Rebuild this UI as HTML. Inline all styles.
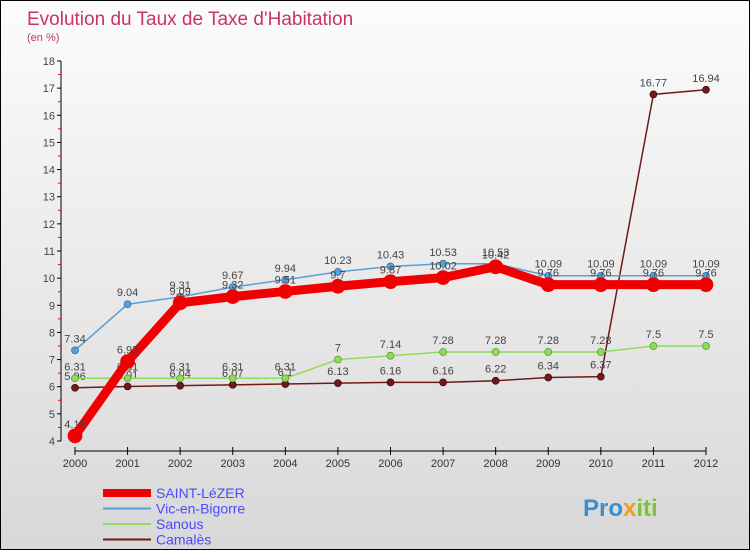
<!DOCTYPE html>
<html><head><meta charset="utf-8"><style>
body{margin:0}
#c{width:748px;height:548px;border:1px solid #000;background:linear-gradient(#fcfcfc,#d8d8d8);position:relative;font-family:"Liberation Sans",sans-serif;overflow:hidden}
</style></head><body>
<div id="c">
<svg id="s" width="748" height="548" style="position:absolute;left:0;top:0"></svg>
</div>
<script>
const years=[2000,2001,2002,2003,2004,2005,2006,2007,2008,2009,2010,2011,2012];
const saint=[4.19,6.93,9.09,9.32,9.51,9.7,9.87,10.02,10.42,9.76,9.76,9.76,9.76];
const vic=[7.34,9.04,9.31,9.67,9.94,10.23,10.43,10.53,10.53,10.09,10.09,10.09,10.09];
const sanous=[6.31,6.31,6.31,6.31,6.31,7,7.14,7.28,7.28,7.28,7.28,7.5,7.5];
const camales=[5.96,6.01,6.04,6.07,6.1,6.13,6.16,6.16,6.22,6.34,6.37,16.77,16.94];
const yTicks=[4,5,6,7,8,9,10,11,12,13,14,15,16,17,18];
const names=["SAINT-LéZER","Vic-en-Bigorre","Sanous","Camalès"];
const NS="http://www.w3.org/2000/svg";
const s=document.getElementById('s');
const X=i=>74+i*(705-74)/12;
const Y=v=>440-(v-4)*(380/14);
function el(t,a,p){const e=document.createElementNS(NS,t);for(const k in a)e.setAttribute(k,a[k]);(p||s).appendChild(e);return e;}
function txt(x,y,t,a){const e=el('text',Object.assign({x:x,y:y},a));e.textContent=t;return e;}
let tt=txt(26,24,"Evolution du Taux de Taxe d'Habitation",{fill:'#c8336a','font-size':19});


let st=txt(26,40,"(en %)",{fill:'#c8336a','font-size':11});


const ax=el('g',{});


el('line',{x1:60,y1:Y(18),x2:60,y2:Y(4),stroke:'#000'},ax);
yTicks.forEach(v=>{el('line',{x1:56,x2:60,y1:Y(v),y2:Y(v),stroke:'#000'},ax);
 if(v<18)el('line',{x1:57,x2:60,y1:Y(v+0.5),y2:Y(v+0.5),stroke:'#f00'},ax);
 txt(54,Y(v)+4,v,{'font-size':11,fill:'#444','text-anchor':'end'},ax);});
const xa=el('g',{});


el('line',{x1:X(0),x2:X(12),y1:450,y2:450,stroke:'#000'},xa);
years.forEach((y,i)=>{el('line',{x1:X(i),x2:X(i),y1:446,y2:454,stroke:'#000'},xa);
 txt(X(i),466,y,{'font-size':11,fill:'#333','text-anchor':'middle'},xa);});
function series(d,col,w,r,name,dark){const g=el('g',{});
 
 
 el('polyline',{points:d.map((v,i)=>X(i)+','+Y(v)).join(' '),fill:'none',stroke:col,'stroke-width':w,'stroke-linejoin':'round'},g);
 d.forEach((v,i)=>{el('circle',{cx:X(i),cy:Y(v),r:r,fill:col,stroke:dark,'stroke-width':0.7},g);
  txt(X(i),Y(v)-8,v,{'font-size':11,fill:'#444','text-anchor':'middle'},g);});}
series(camales,'#6e1a1a',1.5,3.5,'series-camales','#3a0808');
series(sanous,'#8fdc5a',1.5,3.5,'series-sanous','#4a9a20');
series(vic,'#5b9fd4',1.5,3.5,'series-vic-en-bigorre','#2a6aa0');
series(saint,'#f00000',9,7,'series-saint-lezer','#f00000');
const cols=['#f00000','#5b9fd4','#8fdc5a','#6e1a1a'],ws=[8,2,2,2];
names.forEach((n,i)=>{const g=el('g',{});
 
 
 const y=492+i*15.5;
 el('line',{x1:102,x2:150,y1:y,y2:y,stroke:cols[i],'stroke-width':ws[i]},g);
 txt(155,y+5,n,{'font-size':14,fill:'#4a4aff'},g);});
const lg=txt(582,515,"Pro",{'font-size':24,'font-weight':'bold',fill:'#3a8fd0'});


const t2=el('tspan',{fill:'#f39b1c'},lg);t2.textContent='x';
const t3=el('tspan',{fill:'#7cc43a'},lg);t3.textContent='iti';
</script>
</body></html>
